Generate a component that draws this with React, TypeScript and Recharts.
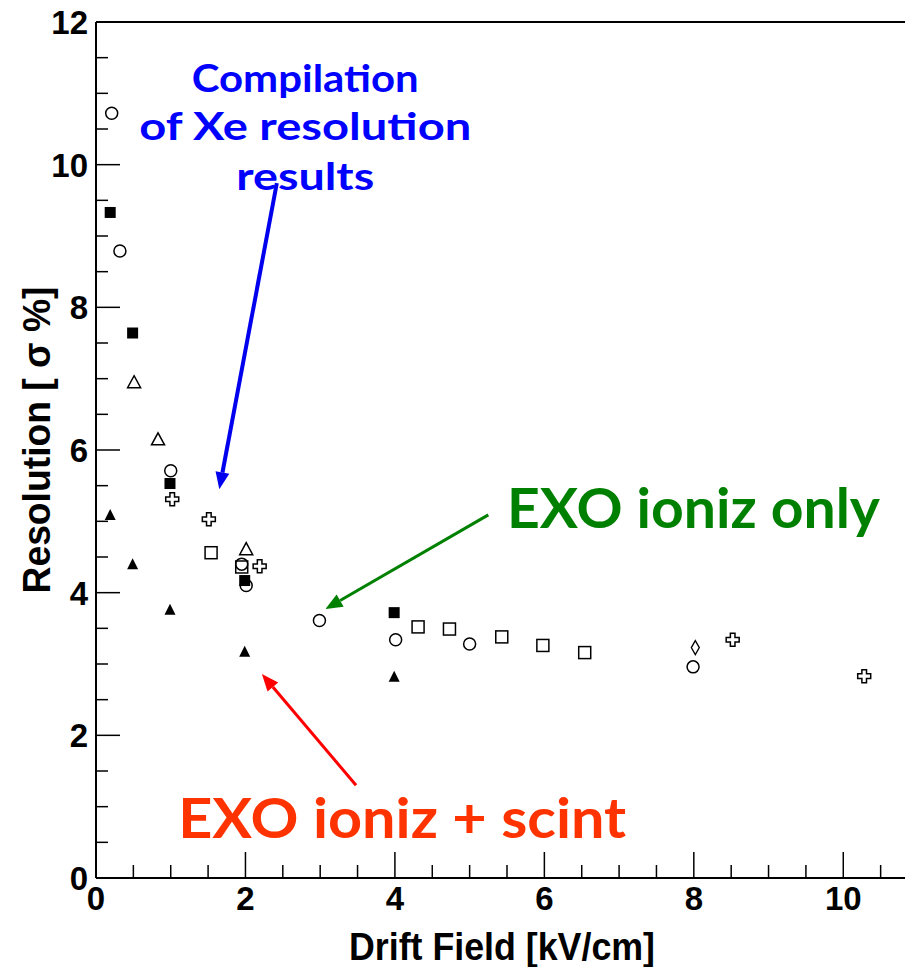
import { ScatterChart, Scatter, XAxis, YAxis, ReferenceLine, ReferenceDot } from "recharts";

// drift field [kV/cm] vs resolution [sigma %]
const openCircles = [
  { x: 0.21, y: 10.72 },
  { x: 0.32, y: 8.79 },
  { x: 1.0, y: 5.71 },
  { x: 1.95, y: 4.4 },
  { x: 2.01, y: 4.1 },
  { x: 2.99, y: 3.61 },
  { x: 4.01, y: 3.34 },
  { x: 5.0, y: 3.28 },
  { x: 7.99, y: 2.96 },
];

const filledSquares = [
  { x: 0.19, y: 9.33 },
  { x: 0.49, y: 7.64 },
  { x: 0.99, y: 5.53 },
  { x: 1.99, y: 4.17 },
  { x: 3.99, y: 3.72 },
];

const openTriangles = [
  { x: 0.51, y: 6.95 },
  { x: 0.83, y: 6.15 },
  { x: 2.01, y: 4.61 },
];

const filledTriangles = [
  { x: 0.19, y: 5.09 },
  { x: 0.49, y: 4.4 },
  { x: 0.99, y: 3.76 },
  { x: 1.99, y: 3.17 },
  { x: 3.99, y: 2.82 },
];

const openSquares = [
  { x: 1.54, y: 4.56 },
  { x: 1.95, y: 4.36 },
  { x: 4.31, y: 3.52 },
  { x: 4.73, y: 3.49 },
  { x: 5.43, y: 3.38 },
  { x: 5.98, y: 3.26 },
  { x: 6.54, y: 3.16 },
];

const openCrosses = [
  { x: 1.02, y: 5.31 },
  { x: 1.51, y: 5.03 },
  { x: 2.19, y: 4.37 },
  { x: 8.52, y: 3.34 },
  { x: 10.28, y: 2.83 },
];

const diamonds = [{ x: 8.02, y: 3.23 }];

const xTicks = [0, 0.5, 1, 1.5, 2, 2.5, 3, 3.5, 4, 4.5, 5, 5.5, 6, 6.5, 7, 7.5, 8, 8.5, 9, 9.5, 10, 10.5, 11];
const yTicks = [0, 0.5, 1, 1.5, 2, 2.5, 3, 3.5, 4, 4.5, 5, 5.5, 6, 6.5, 7, 7.5, 8, 8.5, 9, 9.5, 10, 10.5, 11, 11.5, 12];

const AXIS_FONT = "'Liberation Sans', Arial, Helvetica, sans-serif";
const NOTE_FONT = "Lato, 'DejaVu Sans', sans-serif";

function XTick({ x, y, payload }: any) {
  const v = payload.value;
  const major = v % 2 === 0;
  return (
    <g>
      <line x1={x} y1={y} x2={x} y2={y - (major ? 26 : 13)} stroke="#000" strokeWidth={1.5} />
      {major && (
        <text x={x} y={y + 32} textAnchor="middle" fontFamily={AXIS_FONT} fontWeight="bold" fontSize={33} fill="#000">
          {v}
        </text>
      )}
    </g>
  );
}

function YTick({ x, y, payload }: any) {
  const v = payload.value;
  const major = v % 2 === 0;
  return (
    <g>
      <line x1={x} y1={y} x2={x + (major ? 24 : 12)} y2={y} stroke="#000" strokeWidth={1.5} />
      {major && (
        <text x={x - 8} y={y + 12} textAnchor="end" fontFamily={AXIS_FONT} fontWeight="bold" fontSize={33} fill="#000">
          {v}
        </text>
      )}
    </g>
  );
}

const OpenCircle = ({ cx, cy }: any) => <circle cx={cx} cy={cy} r={6} fill="none" stroke="#000" strokeWidth={1.5} />;
const FilledSquare = ({ cx, cy }: any) => <rect x={cx - 5.5} y={cy - 5.5} width={11} height={11} fill="#000" />;
const OpenSquare = ({ cx, cy }: any) => (
  <rect x={cx - 6} y={cy - 6} width={12} height={12} fill="none" stroke="#000" strokeWidth={1.5} />
);
const OpenTriangle = ({ cx, cy }: any) => (
  <polygon
    points={`${cx - 6.5},${cy + 5.5} ${cx + 6.5},${cy + 5.5} ${cx},${cy - 6.5}`}
    fill="none"
    stroke="#000"
    strokeWidth={1.5}
  />
);
const FilledTriangle = ({ cx, cy }: any) => (
  <polygon points={`${cx - 5.5},${cy + 5} ${cx + 5.5},${cy + 5} ${cx},${cy - 6}`} fill="#000" />
);
const OpenCross = ({ cx, cy }: any) => {
  const a = 2.3;
  const b = 6.5;
  const pts = [
    [-a, -b], [a, -b], [a, -a], [b, -a], [b, a], [a, a],
    [a, b], [-a, b], [-a, a], [-b, a], [-b, -a], [-a, -a],
  ]
    .map(([px, py]) => `${cx + px},${cy + py}`)
    .join(" ");
  return <polygon points={pts} fill="none" stroke="#000" strokeWidth={1.5} />;
};
const Diamond = ({ cx, cy }: any) => (
  <polygon
    points={`${cx},${cy - 7} ${cx + 4},${cy} ${cx},${cy + 7} ${cx - 4},${cy}`}
    fill="none"
    stroke="#000"
    strokeWidth={1.3}
  />
);

// arrow drawn between the two ends of a ReferenceLine segment
function arrow(color: string, width: number) {
  return ({ x1, y1, x2, y2 }: any) => {
    const ang = Math.atan2(y2 - y1, x2 - x1);
    const len = 17;
    const half = 7;
    const bx = x2 - len * Math.cos(ang);
    const by = y2 - len * Math.sin(ang);
    const nx = -Math.sin(ang);
    const ny = Math.cos(ang);
    return (
      <g>
        <line x1={x1} y1={y1} x2={bx} y2={by} stroke={color} strokeWidth={width} />
        <polygon
          points={`${x2},${y2} ${bx + nx * half},${by + ny * half} ${bx - nx * half},${by - ny * half}`}
          fill={color}
        />
      </g>
    );
  };
}

function note(text: string, color: string, size: number, length: number, anchor: string) {
  return ({ cx, cy }: any) => (
    <text
      x={cx}
      y={cy}
      textAnchor={anchor}
      fontFamily={NOTE_FONT}
      fontWeight="bold"
      fontSize={size}
      fill={color}
      textLength={length}
      lengthAdjust="spacingAndGlyphs"
    >
      {text}
    </text>
  );
}

export default function App() {
  return (
    <div
      style={{ position: "absolute", left: 0, top: 0, width: 905, height: 967, overflow: "hidden", background: "#fff" }}
    >
      <ScatterChart width={918} height={967} margin={{ top: 22, right: 0, bottom: 0, left: 8 }}>
        <XAxis
          type="number"
          dataKey="x"
          domain={[0, 11]}
          ticks={xTicks}
          interval={0}
          allowDataOverflow
          height={89}
          tickSize={0}
          tickMargin={0}
          tickLine={false}
          axisLine={{ stroke: "#000", strokeWidth: 2 }}
          tick={<XTick />}
          label={{
            content: ({ viewBox }: any) => (
              <text
                x={viewBox.x + 406}
                y={viewBox.y + 82}
                textAnchor="middle"
                fontFamily={AXIS_FONT}
                fontWeight="bold"
                fontSize={38}
                textLength={306}
                lengthAdjust="spacingAndGlyphs"
                fill="#000"
              >
                Drift Field [kV/cm]
              </text>
            ),
          }}
        />
        <YAxis
          type="number"
          dataKey="y"
          domain={[0, 12]}
          ticks={yTicks}
          interval={0}
          allowDataOverflow
          width={88}
          tickSize={0}
          tickMargin={0}
          tickLine={false}
          axisLine={{ stroke: "#000", strokeWidth: 2 }}
          tick={<YTick />}
          label={{
            content: ({ viewBox }: any) => {
              const tx = viewBox.x + 42;
              const ty = viewBox.y + 418;
              return (
                <text
                  x={tx}
                  y={ty}
                  transform={`rotate(-90 ${tx} ${ty})`}
                  textAnchor="middle"
                  fontFamily={AXIS_FONT}
                  fontWeight="bold"
                  fontSize={38}
                  textLength={307}
                  lengthAdjust="spacingAndGlyphs"
                  fill="#000"
                >
                  Resolution [ σ %]
                </text>
              );
            },
          }}
        />
        <ReferenceLine y={12} stroke="#000" strokeWidth={2} ifOverflow="visible" />

        <Scatter data={openCircles} shape={OpenCircle} isAnimationActive={false} />
        <Scatter data={openSquares} shape={OpenSquare} isAnimationActive={false} />
        <Scatter data={filledSquares} shape={FilledSquare} isAnimationActive={false} />
        <Scatter data={openTriangles} shape={OpenTriangle} isAnimationActive={false} />
        <Scatter data={filledTriangles} shape={FilledTriangle} isAnimationActive={false} />
        <Scatter data={openCrosses} shape={OpenCross} isAnimationActive={false} />
        <Scatter data={diamonds} shape={Diamond} isAnimationActive={false} />

        <ReferenceLine
          segment={[{ x: 2.42, y: 9.74 }, { x: 1.65, y: 5.45 }]}
          shape={arrow("#0000ee", 4)}
          ifOverflow="visible"
        />
        <ReferenceLine
          segment={[{ x: 5.25, y: 5.09 }, { x: 3.07, y: 3.77 }]}
          shape={arrow("#008000", 3)}
          ifOverflow="visible"
        />
        <ReferenceLine
          segment={[{ x: 3.48, y: 1.3 }, { x: 2.22, y: 2.86 }]}
          shape={arrow("#ff0000", 3)}
          ifOverflow="visible"
        />

        <ReferenceDot x={2.8} y={11.02} shape={note("Compilation", "#0000ff", 38, 227, "middle")} ifOverflow="visible" />
        <ReferenceDot x={2.8} y={10.35} shape={note("of Xe resolution", "#0000ff", 38, 332, "middle")} ifOverflow="visible" />
        <ReferenceDot x={2.8} y={9.65} shape={note("results", "#0000ff", 38, 138, "middle")} ifOverflow="visible" />
        <ReferenceDot x={5.5} y={4.91} shape={note("EXO ioniz only", "#008000", 56, 373, "start")} ifOverflow="visible" />
        <ReferenceDot x={1.1} y={0.56} shape={note("EXO ioniz + scint", "#ff3300", 56, 448, "start")} ifOverflow="visible" />
      </ScatterChart>
    </div>
  );
}
